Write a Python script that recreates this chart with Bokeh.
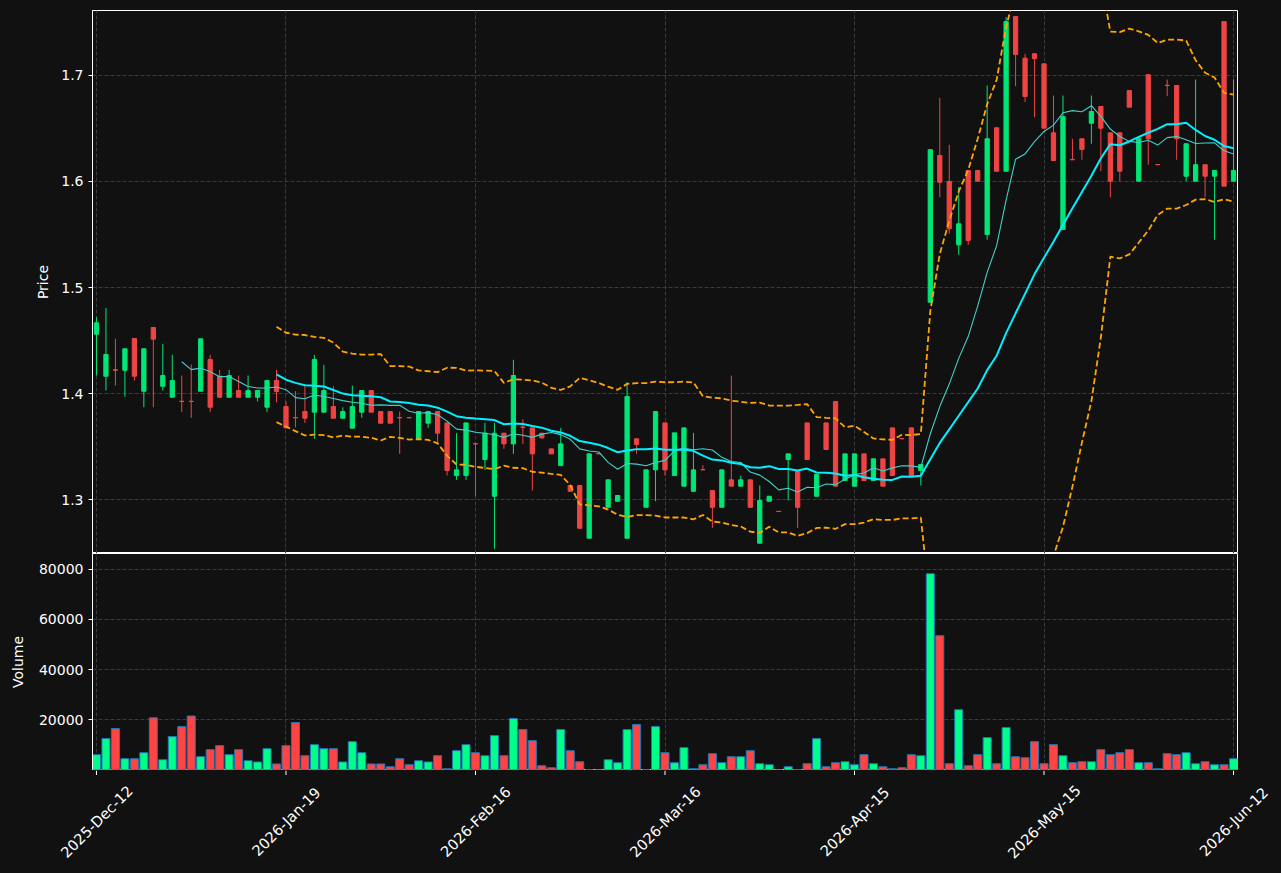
import math
import numpy as np
import pandas as pd
from bokeh.plotting import figure
from bokeh.layouts import column
from bokeh.models import ColumnDataSource, FixedTicker, NumeralTickFormatter, Range1d
from bokeh.core.properties import value
from bokeh.embed import file_html
from bokeh.resources import INLINE

# ---------------- data ----------------
tick_positions = [0, 20, 40, 60, 80, 100, 120]
tick_labels = ["2025-Dec-12", "2026-Jan-19", "2026-Feb-16", "2026-Mar-16",
               "2026-Apr-15", "2026-May-15", "2026-Jun-12"]

opens = [1.4560, 1.4163, 1.4225, 1.4220, 1.4519, 1.4022, 1.4623, 1.4069, 1.3965, 1.3927,
         1.3927, 1.4022, 1.4321, 1.4163, 1.3965, 1.4028, 1.3965, 1.3965, 1.3871, 1.4123,
         1.3877, 1.3773, 1.3830, 1.3824, 1.3824, 1.3877, 1.3767, 1.3673, 1.3824, 1.4028,
         1.3830, 1.3830, 1.3773, 1.3773, 1.3573, 1.3720, 1.3830, 1.3723, 1.3226, 1.3226,
         1.3527, 1.3377, 1.3031, 1.3626, 1.3525, 1.3684, 1.3676, 1.3626, 1.3478, 1.3320,
         1.3132, 1.3132, 1.2635, 1.3433, 1.2927, 1.2984, 1.2635, 1.3573, 1.2927, 1.3280,
         1.3723, 1.3226, 1.3126, 1.3078, 1.3282, 1.3085, 1.2927, 1.3186, 1.3126, 1.3186,
         1.2588, 1.2984, 1.2889, 1.3377, 1.3274, 1.3723, 1.3031, 1.3723, 1.3925, 1.3179,
         1.3126, 1.3431, 1.3179, 1.3384, 1.3676, 1.3575, 1.3676, 1.3274, 1.4861, 1.6245,
         1.6000, 1.5403, 1.6104, 1.6104, 1.5500, 1.6507, 1.6097, 1.7557, 1.7163, 1.7205,
         1.7110, 1.6459, 1.5547, 1.6207, 1.6403, 1.6550, 1.6708, 1.6459, 1.6459, 1.6858,
         1.6003, 1.7007, 1.6160, 1.6908, 1.6906, 1.6050, 1.6003, 1.6158, 1.6050, 1.7509,
         1.6003]

highs = [1.4720, 1.4808, 1.4516, 1.4422, 1.4519, 1.4422, 1.4623, 1.4469, 1.4365, 1.4170,
         1.4274, 1.4516, 1.4365, 1.4223, 1.4223, 1.4170, 1.4170, 1.4028, 1.4123, 1.4223,
         1.3925, 1.4022, 1.4069, 1.4365, 1.4271, 1.4069, 1.3870, 1.4075, 1.4028, 1.4028,
         1.3830, 1.3830, 1.3830, 1.3773, 1.3830, 1.3830, 1.3830, 1.3723, 1.3626, 1.3723,
         1.3527, 1.3723, 1.3723, 1.3626, 1.4318, 1.3757, 1.3676, 1.3626, 1.3478, 1.3676,
         1.3132, 1.3132, 1.3431, 1.3433, 1.3186, 1.3038, 1.4107, 1.3573, 1.3280, 1.3830,
         1.3723, 1.3629, 1.3676, 1.3629, 1.3323, 1.3085, 1.3280, 1.4170, 1.3226, 1.3186,
         1.3132, 1.3031, 1.2889, 1.3431, 1.3274, 1.3723, 1.3236, 1.3723, 1.3925, 1.3431,
         1.3431, 1.3431, 1.3384, 1.3384, 1.3676, 1.3575, 1.3676, 1.3330, 1.6300, 1.6790,
         1.6346, 1.5946, 1.6104, 1.6104, 1.6906, 1.6507, 1.7550, 1.7557, 1.7205, 1.7205,
         1.7110, 1.6811, 1.6811, 1.6403, 1.6403, 1.6811, 1.6708, 1.6459, 1.6459, 1.6858,
         1.6403, 1.7007, 1.6160, 1.6962, 1.6906, 1.6356, 1.6962, 1.6158, 1.6104, 1.7509,
         1.6962]

lows = [1.4170, 1.4028, 1.4075, 1.3970, 1.4123, 1.3871, 1.3871, 1.4028, 1.3965, 1.3824,
        1.3771, 1.4022, 1.3824, 1.3965, 1.3965, 1.3965, 1.3965, 1.3925, 1.3824, 1.3918,
        1.3676, 1.3682, 1.3723, 1.3573, 1.3824, 1.3767, 1.3767, 1.3673, 1.3771, 1.3824,
        1.3720, 1.3720, 1.3431, 1.3771, 1.3573, 1.3676, 1.3525, 1.3226, 1.3186, 1.3186,
        1.3031, 1.3280, 1.2535, 1.3478, 1.3431, 1.3525, 1.3085, 1.3570, 1.3431, 1.3320,
        1.3078, 1.2729, 1.2635, 1.3431, 1.2927, 1.2984, 1.2635, 1.3431, 1.2927, 1.2984,
        1.3226, 1.3226, 1.3126, 1.3078, 1.3280, 1.2733, 1.2927, 1.3126, 1.3126, 1.2927,
        1.2588, 1.2984, 1.2887, 1.2991, 1.2733, 1.3377, 1.3031, 1.3472, 1.3126, 1.3179,
        1.3126, 1.3179, 1.3179, 1.3126, 1.3226, 1.3573, 1.3226, 1.3132, 1.4861, 1.5852,
        1.5507, 1.5309, 1.5403, 1.6003, 1.5450, 1.6097, 1.6097, 1.6899, 1.6748, 1.6607,
        1.6503, 1.6198, 1.5547, 1.6205, 1.6205, 1.6356, 1.6097, 1.5852, 1.6003, 1.6701,
        1.6003, 1.6158, 1.6158, 1.6805, 1.6205, 1.6003, 1.6003, 1.5852, 1.5450, 1.5956,
        1.6003]

closes = [1.4667, 1.4368, 1.4220, 1.4422, 1.4163, 1.4422, 1.4513, 1.4170, 1.4123, 1.3925,
          1.3925, 1.4516, 1.3871, 1.3965, 1.4170, 1.3965, 1.4028, 1.4028, 1.4123, 1.4019,
          1.3676, 1.3771, 1.3767, 1.4321, 1.4028, 1.3767, 1.3830, 1.3877, 1.4028, 1.3824,
          1.3720, 1.3720, 1.3771, 1.3771, 1.3830, 1.3830, 1.3626, 1.3274, 1.3280, 1.3723,
          1.3525, 1.3626, 1.3626, 1.3525, 1.4170, 1.3682, 1.3431, 1.3582, 1.3431, 1.3525,
          1.3078, 1.2729, 1.3431, 1.3431, 1.3186, 1.3038, 1.3972, 1.3519, 1.3280, 1.3830,
          1.3280, 1.3629, 1.3676, 1.3280, 1.3280, 1.2927, 1.3280, 1.3126, 1.3186, 1.2927,
          1.2991, 1.3031, 1.2887, 1.3431, 1.2927, 1.3377, 1.3236, 1.3472, 1.3126, 1.3431,
          1.3431, 1.3179, 1.3384, 1.3126, 1.3226, 1.3573, 1.3226, 1.3330, 1.6300, 1.5993,
          1.5554, 1.5601, 1.5443, 1.6003, 1.6403, 1.6097, 1.7509, 1.7198, 1.6802, 1.7158,
          1.6503, 1.6198, 1.6613, 1.6205, 1.6302, 1.6660, 1.6503, 1.6003, 1.6097, 1.6701,
          1.6403, 1.6403, 1.6158, 1.6906, 1.6403, 1.6356, 1.6158, 1.6050, 1.6104, 1.5956,
          1.6104]

volumes = [6100, 12500, 16500, 4500, 4500, 6900, 20800, 4100, 13300, 17300,
           21500, 5300, 8100, 9700, 6100, 8100, 3700, 3200, 8500, 2400,
           9700, 18900, 5700, 10100, 8500, 8500, 3200, 11300, 6900, 2400,
           2400, 1300, 4500, 2100, 3700, 3200, 5700, 500, 7700, 10100,
           6900, 5700, 13700, 5700, 20500, 16100, 11700, 1700, 900, 16100,
           7700, 3300, 200, 50, 4100, 2900, 16100, 18100, 150, 17300,
           6900, 2900, 8900, 500, 2100, 6500, 2900, 5300, 5300, 7700,
           2500, 2100, 50, 1300, 200, 2500, 12500, 1300, 2900, 3300,
           2100, 6100, 2500, 1300, 500, 900, 6100, 5700, 78200, 53500,
           2500, 24000, 1700, 6100, 12900, 2500, 16900, 5300, 4900, 11300,
           2500, 10100, 5700, 2900, 3300, 3300, 8100, 6100, 6900, 8100,
           2900, 2900, 500, 6500, 6100, 6900, 2500, 3300, 2100, 2100,
           4500]

# ---------------- styling ----------------
BG = "#111111"
GRID = "#3a3a3a"
UP = "#00e676"
DOWN = "#ef4444"
VUP = "#00ff88"
VDOWN = "#ff4444"
FONT = "DejaVu Sans"
FS = "14px"
FS_X = "14.6px"

W = 1281
LEFT, RIGHT = 92, 44
X_LO, X_HI = -0.42, 120.42
PX_PER_UNIT = (W - LEFT - RIGHT) / (X_HI - X_LO)

n = len(closes)
xs = list(range(n))
up = [c >= o for o, c in zip(opens, closes)]
cols = [UP if u else DOWN for u in up]
vcols = [VUP if u else VDOWN for u in up]

src = ColumnDataSource(dict(
    x=xs, open=opens, high=highs, low=lows, close=closes,
    top=[max(o, c) for o, c in zip(opens, closes)],
    bottom=[min(o, c) for o, c in zip(opens, closes)],
    color=cols, vcolor=vcols, volume=volumes,
))

s = pd.Series(closes, dtype=float)
ma10 = s.rolling(10).mean()
ma20 = s.rolling(20).mean()
sd20 = s.rolling(20).std(ddof=0)
upper = ma20 + 2 * sd20
lower = ma20 - 2 * sd20
line_src = ColumnDataSource(dict(x=xs, ma10=ma10.values, ma20=ma20.values,
                                 upper=upper.values, lower=lower.values))

x_range = Range1d(X_LO, X_HI)


def style(fig):
    fig.background_fill_color = BG
    fig.border_fill_color = BG
    fig.outline_line_color = "white"
    fig.outline_line_width = 1
    fig.outline_line_alpha = 1
    for g in (fig.xgrid, fig.ygrid):
        g.grid_line_color = GRID
        g.grid_line_dash = "4 2"
        g.grid_line_width = 1
    fig.xgrid.ticker = FixedTicker(ticks=tick_positions)
    for ax in fig.yaxis:
        ax.axis_line_color = "white"
        ax.major_tick_line_color = "white"
        ax.minor_tick_line_color = None
        ax.major_tick_out = 4
        ax.major_tick_in = 0
        ax.major_label_text_color = "white"
        ax.major_label_text_font = FONT
        ax.major_label_text_font_size = FS
        ax.axis_label_text_color = "white"
        ax.axis_label_text_font = FONT
        ax.axis_label_text_font_size = FS
        ax.axis_label_text_font_style = "normal"


# ---------------- price panel ----------------
p = figure(width=W, height=553, x_range=x_range, y_range=Range1d(1.2491, 1.7613),
           output_backend="svg", toolbar_location=None,
           min_border_left=LEFT, min_border_right=RIGHT, min_border_top=10, min_border_bottom=0)
style(p)
p.xaxis.visible = False
p.yaxis.ticker = FixedTicker(ticks=[1.3, 1.4, 1.5, 1.6, 1.7])
p.yaxis.formatter = NumeralTickFormatter(format="0.0")
p.yaxis.axis_label = "Price"
p.yaxis.axis_label_standoff = 7

p.segment(x0="x", y0="low", x1="x", y1="high", color="color", line_width=1, source=src)
p.vbar(x="x", width=0.45, top="top", bottom="bottom", fill_color="color",
       line_color="color", line_width=1, source=src)

p.line("x", "upper", source=line_src, line_color="#ffa500", line_width=1.8, line_dash="6 3")
p.line("x", "lower", source=line_src, line_color="#ffa500", line_width=1.8, line_dash="6 3")
p.line("x", "ma10", source=line_src, line_color="#40d0c8", line_width=1.1)
p.line("x", "ma20", source=line_src, line_color="#00f0ff", line_width=2)

# ---------------- volume panel ----------------
v = figure(width=W, height=217, x_range=x_range, y_range=Range1d(-200, 86250),
           output_backend="svg", toolbar_location=None,
           min_border_left=LEFT, min_border_right=RIGHT, min_border_top=0, min_border_bottom=0)
style(v)
v.xaxis.visible = False
v.yaxis.ticker = FixedTicker(ticks=[20000, 40000, 60000, 80000])
v.yaxis.formatter = NumeralTickFormatter(format="0")
v.yaxis.axis_label = "Volume"
v.yaxis.axis_label_standoff = 10

v.vbar(x="x", width=0.85, top="volume", bottom=0, fill_color="vcolor",
       line_color="#1f77b4", line_width=1, source=src)

# ---------------- date axis strip (ticks + rotated labels centred on ticks) ----------------
STRIP_H = 873 - 553 - 217
d = figure(width=W, height=STRIP_H,
           x_range=Range1d(X_LO - LEFT / PX_PER_UNIT, X_HI + RIGHT / PX_PER_UNIT),
           y_range=Range1d(-STRIP_H, 0),
           output_backend="svg", toolbar_location=None,
           x_axis_location=None, y_axis_location=None,
           min_border_left=0, min_border_right=0, min_border_top=0, min_border_bottom=0)
d.frame_align = False
d.background_fill_color = BG
d.border_fill_color = BG
d.outline_line_color = None
d.grid.visible = False

tick_src = ColumnDataSource(dict(x=tick_positions, label=tick_labels))
d.segment(x0="x", y0=0, x1="x", y1=-4.5, line_color="white", line_width=1, source=tick_src)
d.text(x="x", y=-51, text="label", angle=math.pi / 4, text_align="center",
       text_baseline="middle", text_color="white", text_font=value(FONT),
       text_font_size=value(FS_X), source=tick_src)

layout = column(p, v, d, spacing=0)
layout.styles = {"background-color": BG}

open("out.html", "w").write(file_html(layout, INLINE))
